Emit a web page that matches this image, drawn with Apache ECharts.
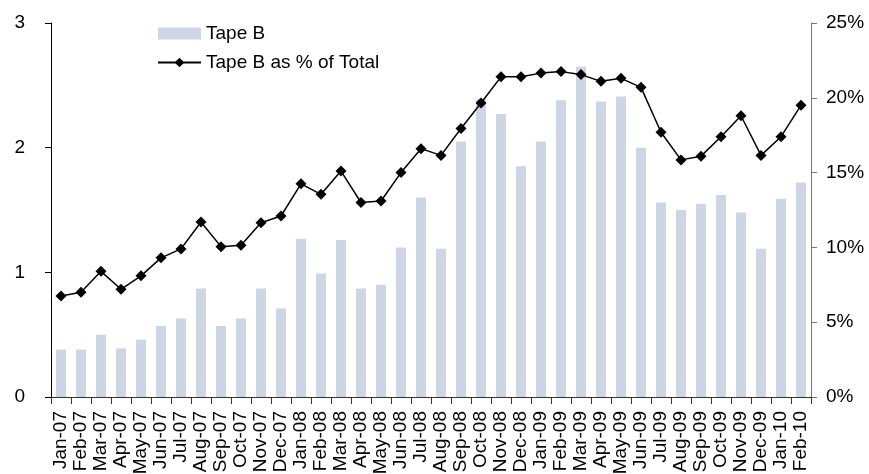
<!DOCTYPE html>
<html>
<head>
<meta charset="utf-8">
<script src="https://cdn.jsdelivr.net/npm/echarts@6/dist/echarts.min.js"></script>
<style>
    html, body { margin: 0; padding: 0; background: #fff; }
    #chart { width: 869px; height: 474px; }
</style>
</head>
<body>
<div id="chart"></div>
<script>
// 月份
var months = ['Jan-07', 'Feb-07', 'Mar-07', 'Apr-07', 'May-07', 'Jun-07', 'Jul-07', 'Aug-07', 'Sep-07', 'Oct-07', 'Nov-07', 'Dec-07',
    'Jan-08', 'Feb-08', 'Mar-08', 'Apr-08', 'May-08', 'Jun-08', 'Jul-08', 'Aug-08', 'Sep-08', 'Oct-08', 'Nov-08', 'Dec-08',
    'Jan-09', 'Feb-09', 'Mar-09', 'Apr-09', 'May-09', 'Jun-09', 'Jul-09', 'Aug-09', 'Sep-09', 'Oct-09', 'Nov-09', 'Dec-09',
    'Jan-10', 'Feb-10']
// Tape B (左轴)
var tapeB = [0.38, 0.38, 0.50, 0.39, 0.46, 0.57, 0.63, 0.87, 0.57, 0.63, 0.87, 0.71,
    1.27, 0.99, 1.26, 0.87, 0.90, 1.20, 1.60, 1.19, 2.05, 2.39, 2.27, 1.85,
    2.05, 2.38, 2.65, 2.37, 2.41, 2.00, 1.56, 1.50, 1.55, 1.62, 1.48, 1.19,
    1.59, 1.72]
// Tape B as % of Total (右轴, %)
var tapeBPct = [6.75, 7.0, 8.4, 7.2, 8.1, 9.3, 9.9, 11.7, 10.05, 10.15, 11.65, 12.1,
    14.25, 13.55, 15.1, 13.0, 13.1, 15.0, 16.6, 16.15, 17.95, 19.65, 21.4, 21.4,
    21.65, 21.75, 21.55, 21.1, 21.3, 20.7, 17.7, 15.85, 16.1, 17.4, 18.8, 16.15,
    17.4, 19.5]
// 刻度
var leftTicks = {min: 0, max: 3, interval: 1}
var rightTicks = {min: 0, max: 25, interval: 5}

var chart = echarts.init(document.getElementById('chart'))
var font = 'Arial, "Liberation Sans", sans-serif'

chart.setOption({
    animation: false,
    grid: {// 表格设置
        left: 51,
        right: 58,
        top: 23,
        bottom: 77,
        outerBoundsMode: 'none'
    },
    legend: {
        orient: 'vertical',
        left: 157,
        top: 24,
        padding: 0,
        itemWidth: 43,
        itemHeight: 12,
        itemGap: 10,
        textStyle: {fontFamily: font, fontSize: 19, color: '#000'},
        data: [
            {name: 'Tape B', icon: 'rect'},
            {name: 'Tape B as % of Total'}
        ]
    },
    xAxis: [{
        type: 'category',
        data: months,
        axisLine: {lineStyle: {color: '#333', width: 1}},
        axisTick: {show: true, length: 7, lineStyle: {color: '#333'}},
        axisLabel: {
            rotate: 90,
            interval: 0,
            margin: 14,
            fontFamily: font,
            fontSize: 19,
            color: '#000'
        },
        splitLine: {show: false}
    }],
    yAxis: [{
        type: 'value',
        min: leftTicks.min,
        max: leftTicks.max,
        interval: leftTicks.interval,
        axisLine: {show: true, lineStyle: {color: '#000'}},
        axisTick: {show: true, length: 6, lineStyle: {color: '#000'}},
        axisLabel: {margin: 26, fontFamily: font, fontSize: 19, color: '#000'},
        splitLine: {show: false}
    }, {
        type: 'value',
        position: 'right',
        min: rightTicks.min,
        max: rightTicks.max,
        interval: rightTicks.interval,
        axisLine: {show: true, lineStyle: {color: '#777'}},
        axisTick: {show: true, length: 6, lineStyle: {color: '#777'}},
        axisLabel: {margin: 15, formatter: '{value}%', fontFamily: font, fontSize: 19, color: '#000'},
        splitLine: {show: false}
    }],
    series: [{
        name: 'Tape B',
        type: 'bar',
        barWidth: 10,
        itemStyle: {color: '#ced5e4'},
        data: tapeB
    }, {
        name: 'Tape B as % of Total',
        type: 'line',
        yAxisIndex: 1,
        symbol: 'diamond',
        symbolSize: 11,
        itemStyle: {color: '#000'},
        lineStyle: {color: '#000', width: 1.5},
        data: tapeBPct
    }]
})
</script>
</body>
</html>
